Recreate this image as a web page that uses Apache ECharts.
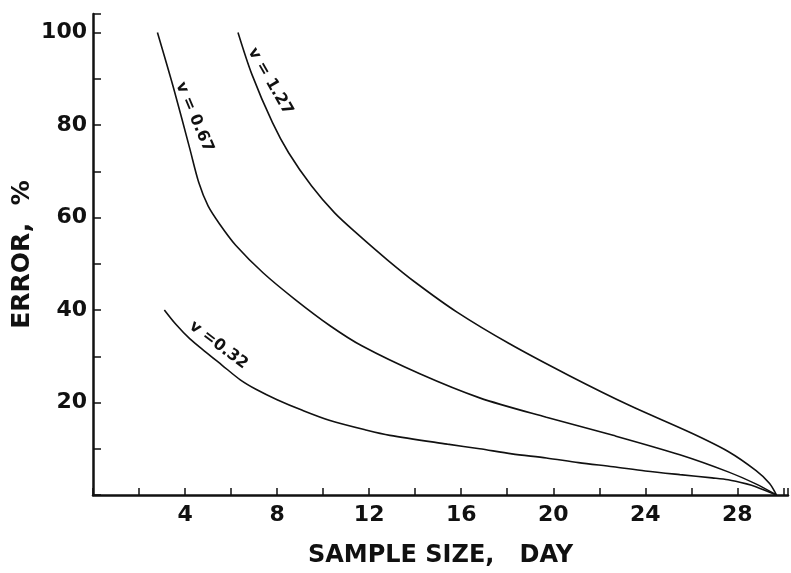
<!DOCTYPE html>
<html>
<head>
<meta charset="utf-8">
<script src="https://cdn.jsdelivr.net/npm/echarts@6/dist/echarts.min.js"></script>
<style>html,body{margin:0;padding:0;background:#fff}#c{width:791px;height:573px}</style>
</head>
<body>
<div id="c"></div>
<script>
// Curve data: [sample size (day), error (%)]
const curveV127 = [[6.3,100],[6.9,91],[7.8,80.5],[8.5,74],[9.5,66.8],[10.5,61],[11.5,56.4],[12.8,50.8],[14.0,46],[15.8,39.6],[18.1,32.7],[20.7,25.8],[23.3,19.4],[26.0,13.4],[27.6,9.4],[28.8,5.3],[29.4,2.5],[29.7,0]];
const curveV067 = [[2.8,100],[3.5,88],[4.2,75],[4.6,67.5],[5.0,62.5],[5.5,58.6],[6.2,54],[7.4,48],[8.8,42.2],[10.3,36.6],[11.7,32.2],[14.2,26.2],[16.8,21],[19.7,16.8],[22.6,12.9],[25.5,8.7],[27.6,5],[28.8,2.4],[29.7,0]];
const curveV032 = [[3.1,40],[3.6,36.9],[4.2,33.8],[4.9,30.9],[5.6,28.1],[6.4,24.9],[7.1,22.8],[8.0,20.6],[9.1,18.3],[10.3,16.1],[11.9,14],[12.9,12.9],[15.4,11.0],[16.8,10.0],[18.2,8.9],[19.7,8.0],[21.1,7.0],[22.6,6.1],[24.0,5.2],[25.5,4.4],[26.9,3.7],[27.6,3.3],[28.4,2.4],[28.8,1.8],[29.7,0]];
const seriesNames = ['v = 1.27','v = 0.67','v =0.32'];
// label anchor positions (data coords) and rotation (deg)
const labelPos = [[7.7,89.4],[4.4,81.7],[5.45,32.4]];
const labelRot = [-60,-67,-37];
const xLabelEvery = 4;
const yLabelEvery = 20;

const chart = echarts.init(document.getElementById('c'), null, {renderer:'canvas'});
const FONT = '"DejaVu Sans", "Liberation Sans", sans-serif';
const lineStyle = {color:'#111', width:1.6};
function mk(name, data){
  return {name, type:'line', data, smooth:0.3, symbol:'none', lineStyle, silent:true, animation:false};
}
chart.setOption({
  animation:false,
  backgroundColor:'#fff',
  grid:{left:93, right:2, top:14, bottom:72.5, containLabel:false},
  xAxis:{
    type:'value', min:0, max:30.2, interval:2,
    name:'SAMPLE SIZE,   DAY', nameLocation:'middle', nameGap:49,
    nameTextStyle:{fontFamily:FONT, fontWeight:'bold', fontSize:24, color:'#111'},
    axisLine:{show:true, lineStyle:{color:'#111', width:2.5}},
    axisTick:{show:true, inside:true, length:7, lineStyle:{color:'#111', width:1.5}},
    axisLabel:{margin:9, fontFamily:FONT, fontWeight:'bold', fontSize:22, color:'#111',
      formatter:v => (v>0 && Math.abs(v % xLabelEvery) < 1e-6) ? String(v) : ''},
    splitLine:{show:false}
  },
  yAxis:{
    type:'value', min:0, max:104, interval:10,
    axisLine:{show:true, lineStyle:{color:'#111', width:2.5}},
    axisTick:{show:true, inside:true, length:8, lineStyle:{color:'#111', width:1.5}},
    axisLabel:{margin:6, fontFamily:FONT, fontWeight:'bold', fontSize:22, color:'#111', padding:[0,0,6,0],
      formatter:v => (v>0 && Math.abs(v % yLabelEvery) < 1e-6) ? String(v) : ''},
    splitLine:{show:false}
  },
  series:[mk(seriesNames[0],curveV127), mk(seriesNames[1],curveV067), mk(seriesNames[2],curveV032)]
});

const graphics = [];
for (let i=0;i<3;i++){
  const p = chart.convertToPixel({gridIndex:0}, labelPos[i]);
  graphics.push({type:'text', x:p[0], y:p[1], rotation:labelRot[i]*Math.PI/180,
    style:{text:seriesNames[i], font:'bold 16px '+FONT, fill:'#111', align:'center', verticalAlign:'middle'}});
}
// y axis name, centred on the grid height
const mid = chart.convertToPixel({gridIndex:0}, [0, 52]);
graphics.push({type:'text', x:22, y:mid[1], rotation:Math.PI/2,
  style:{text:'ERROR,  %', font:'bold 25px '+FONT, fill:'#111', align:'center', verticalAlign:'middle'}});
chart.setOption({graphic:graphics});
</script>
</body>
</html>
